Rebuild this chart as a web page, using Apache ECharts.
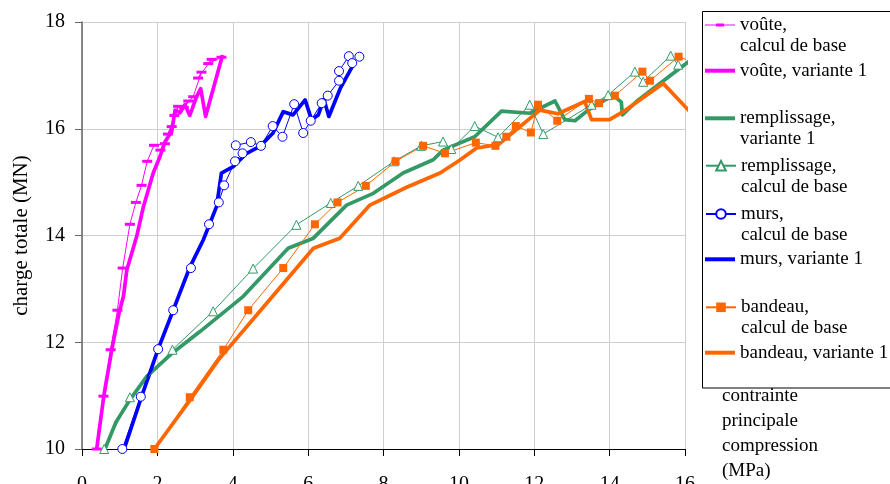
<!DOCTYPE html>
<html>
<head>
<meta charset="utf-8">
<script src="https://cdn.jsdelivr.net/npm/echarts@6/dist/echarts.min.js"></script>
<style>
html,body{margin:0;padding:0;background:#fff;}
#chart{width:890px;height:484px;}
</style>
</head>
<body>
<div id="chart"></div>
<script>
// ---- data (x = contrainte principale compression (MPa), y = charge totale (MN)) ----
const xTicks = [0, 2, 4, 6, 8, 10, 12, 14, 16];
const yTicks = [10, 12, 14, 16, 18];

const vouteBase = [[0.39,10.0],[0.57,10.99],[0.76,11.86],[0.94,12.6],[1.08,13.39],[1.27,14.21],[1.43,14.62],[1.58,14.94],[1.73,15.39],[1.91,15.69],[2.2,15.72],[2.08,15.6],[2.38,16.04],[2.28,15.9],[2.55,16.42],[2.45,16.25],[2.82,16.52],[2.7,16.4],[2.95,16.6],[3.17,17.06],[3.08,16.95],[3.44,17.3],[3.35,17.22],[3.7,17.34]];
const vouteVar1 = [[0.39,10.0],[0.58,11.0],[0.8,11.9],[1.0,12.6],[1.1,12.86],[1.19,13.36],[1.3,13.62],[1.45,13.98],[1.63,14.54],[1.89,15.17],[2.07,15.48],[2.2,15.75],[2.38,15.95],[2.47,16.35],[2.6,16.3],[2.73,16.45],[2.86,16.25],[3.04,16.6],[3.15,16.75],[3.28,16.23],[3.73,17.38]];
const rempVar1 = [[0.61,10.0],[0.9,10.5],[1.27,10.92],[1.72,11.36],[2.4,11.8],[3.13,12.2],[4.28,12.86],[5.47,13.76],[6.14,13.95],[7.02,14.57],[7.73,14.79],[8.52,15.17],[9.32,15.42],[9.58,15.6],[10.42,15.85],[11.13,16.33],[11.88,16.29],[12.55,16.52],[12.81,16.17],[13.08,16.15],[13.43,16.35],[14.09,16.63],[14.31,16.5],[14.34,16.26],[14.71,16.51],[15.69,17.04],[16.1,17.26]];
const rempBase = [[0.59,10.0],[1.27,10.97],[2.4,11.86],[3.48,12.58],[4.54,13.38],[5.69,14.2],[6.6,14.61],[7.33,14.93],[8.28,15.39],[9.0,15.68],[9.58,15.76],[9.8,15.62],[10.42,16.05],[11.04,15.84],[11.88,16.45],[12.24,15.9],[13.52,16.45],[13.96,16.63],[14.67,17.07],[14.89,16.88],[15.62,17.37],[15.82,17.2]];
const mursBase = [[1.07,10.0],[1.56,10.98],[2.02,11.87],[2.42,12.6],[2.89,13.39],[3.37,14.21],[3.63,14.62],[3.77,14.94],[4.06,15.39],[4.26,15.54],[4.08,15.69],[4.48,15.75],[4.75,15.68],[5.06,16.05],[5.32,15.85],[5.63,16.46],[5.87,15.92],[6.07,16.15],[6.36,16.48],[6.52,16.62],[6.82,16.9],[6.82,17.08],[7.08,17.36],[7.17,17.23],[7.36,17.35]];
const mursVar1 = [[1.12,10.0],[1.58,10.98],[2.02,11.87],[2.42,12.6],[2.85,13.39],[3.22,13.92],[3.57,14.54],[3.7,15.17],[4.01,15.29],[4.37,15.54],[4.72,15.67],[5.07,15.92],[5.34,16.32],[5.6,16.26],[5.92,16.54],[6.09,16.17],[6.27,16.26],[6.42,16.55],[6.55,16.23],[6.85,16.75],[7.2,17.2]];
const bandeauBase = [[1.92,10.0],[2.86,10.97],[3.75,11.86],[4.41,12.6],[5.34,13.39],[6.18,14.21],[6.78,14.62],[7.53,14.93],[8.32,15.39],[9.05,15.68],[9.63,15.54],[10.45,15.74],[10.97,15.68],[11.26,15.85],[11.51,16.05],[11.91,15.93],[12.1,16.45],[12.61,16.15],[13.45,16.56],[13.72,16.48],[14.14,16.62],[14.87,17.07],[15.07,16.9],[15.83,17.35],[16.2,17.25]];
const bandeauVar1 = [[1.92,10.0],[2.9,10.95],[3.62,11.67],[4.9,12.73],[6.14,13.76],[6.84,13.95],[7.64,14.57],[8.6,14.9],[9.5,15.17],[10.0,15.4],[10.47,15.64],[11.04,15.7],[12.15,16.35],[12.63,16.28],[13.34,16.51],[13.52,16.17],[14.0,16.17],[14.36,16.32],[15.42,16.85],[16.13,16.32]];

const seriesNames = [
  'voûte,\ncalcul de base',
  'voûte, variante 1',
  'remplissage,\nvariante 1',
  'remplissage,\ncalcul de base',
  'murs,\ncalcul de base',
  'murs, variante 1',
  'bandeau,\ncalcul de base',
  'bandeau, variante 1'
];
const xAxisTitle = 'contrainte\nprincipale\ncompression\n(MPa)';
const yAxisTitle = 'charge totale (MN)';

// ---- styling ----
const FONT = '"Liberation Serif", "Times New Roman", serif';
const MAGENTA = '#FF00FF', BLUE = '#0000FF', GREEN = '#339966', ORANGE = '#FF6600';
const dashSymbol = 'path://M0,0 L10,0 L10,3 L0,3 Z';
const thickIcon = 'path://M0,0 L30,0 L30,4 L0,4 Z';
const dashLegendIcon = 'path://M0,6.5 L30,6.5 L30,7.5 L0,7.5 Z M11,5.5 L19,5.5 L19,8.5 L11,8.5 Z';

function thin(name, data, color, symbol, size, filled) {
  return {
    name, type: 'line', data, clip: true,
    symbol, symbolSize: size, showSymbol: true,
    lineStyle: { color, width: 1 },
    itemStyle: filled ? { color, borderColor: color, borderWidth: 0 } : { color: '#fff', borderColor: color, borderWidth: 1 },
    emphasis: { disabled: true }, animation: false, z: 3
  };
}
function thick(name, data, color) {
  return {
    name, type: 'line', data, clip: true,
    symbol: 'none', showSymbol: false,
    lineStyle: { color, width: 3.7, join: 'round' },
    itemStyle: { color },
    emphasis: { disabled: true }, animation: false, z: 2
  };
}

const series = [
  thin(seriesNames[0], vouteBase, MAGENTA, dashSymbol, [10, 3], true),
  thick(seriesNames[1], vouteVar1, MAGENTA),
  thick(seriesNames[2], rempVar1, GREEN),
  thin(seriesNames[3], rempBase, GREEN, 'triangle', 9, false),
  thin(seriesNames[4], mursBase, BLUE, 'circle', 9, false),
  thick(seriesNames[5], mursVar1, BLUE),
  thin(seriesNames[6], bandeauBase, ORANGE, 'rect', 8, true),
  thick(seriesNames[7], bandeauVar1, ORANGE)
];
const isThick = [false, true, true, false, false, true, false, true];

// legend: one component per entry so the icon sits on the first text line
const iconCenters = [25, 70.7, 118.3, 165.7, 214, 259.3, 307.3, 352.7];
const LH = 21;
const legends = seriesNames.map((name, i) => {
  const multi = name.indexOf('\n') >= 0;
  const h = multi ? 3 * LH : LH;
  const lg = {
    data: [name],
    orient: 'vertical',
    left: 705,
    top: iconCenters[i] - h / 2,
    padding: 0,
    itemWidth: 30,
    itemHeight: 12,
    itemGap: 5,
    selectedMode: false,
    formatter: n => (n.indexOf('\n') >= 0 ? '\n' + n : n),
    textStyle: { fontFamily: FONT, fontSize: 19, lineHeight: LH, color: '#000' }
  };
  if (isThick[i]) { lg.icon = thickIcon; lg.itemHeight = 4; }
  if (i === 0) { lg.icon = dashLegendIcon; lg.itemHeight = 14; }
  return lg;
});

const chart = echarts.init(document.getElementById('chart'), null, { renderer: 'canvas' });
chart.setOption({
  backgroundColor: '#fff',
  animation: false,
  grid: { left: 82, right: 205, top: 22, bottom: 35, containLabel: false, outerBoundsMode: 'none' },
  xAxis: {
    type: 'value', min: xTicks[0], max: xTicks[xTicks.length - 1], interval: 2,
    axisLine: { show: true, onZero: false, lineStyle: { color: '#000', width: 1 } },
    axisTick: { show: true, length: 7, lineStyle: { color: '#000' } },
    axisLabel: { margin: 26, fontFamily: FONT, fontSize: 20, color: '#000' },
    splitLine: { show: true, lineStyle: { color: '#cfcfcf', width: 1 } }
  },
  yAxis: {
    type: 'value', min: yTicks[0], max: yTicks[yTicks.length - 1], interval: 2,
    name: yAxisTitle, nameLocation: 'middle', nameGap: 50, nameRotate: 90,
    nameTextStyle: { fontFamily: FONT, fontSize: 21, color: '#000' },
    axisLine: { show: true, onZero: false, lineStyle: { color: '#666', width: 1.5 } },
    axisTick: { show: true, length: 7, lineStyle: { color: '#666' } },
    axisLabel: { margin: 17, fontFamily: FONT, fontSize: 20, color: '#000' },
    splitLine: { show: true, lineStyle: { color: '#cfcfcf', width: 1 } }
  },
  legend: legends,
  graphic: [
    {
      type: 'text', left: 722, top: 384, z: 1,
      style: { text: xAxisTitle, font: '19px ' + FONT, lineHeight: 25, fill: '#000' }
    },
    {
      type: 'rect', z: 0, zlevel: 0, silent: true,
      shape: { x: 702.5, y: 11.5, width: 260, height: 376.5 },
      style: { fill: '#fff', stroke: '#000', lineWidth: 1 }
    }
  ],
  series
});
</script>
</body>
</html>
